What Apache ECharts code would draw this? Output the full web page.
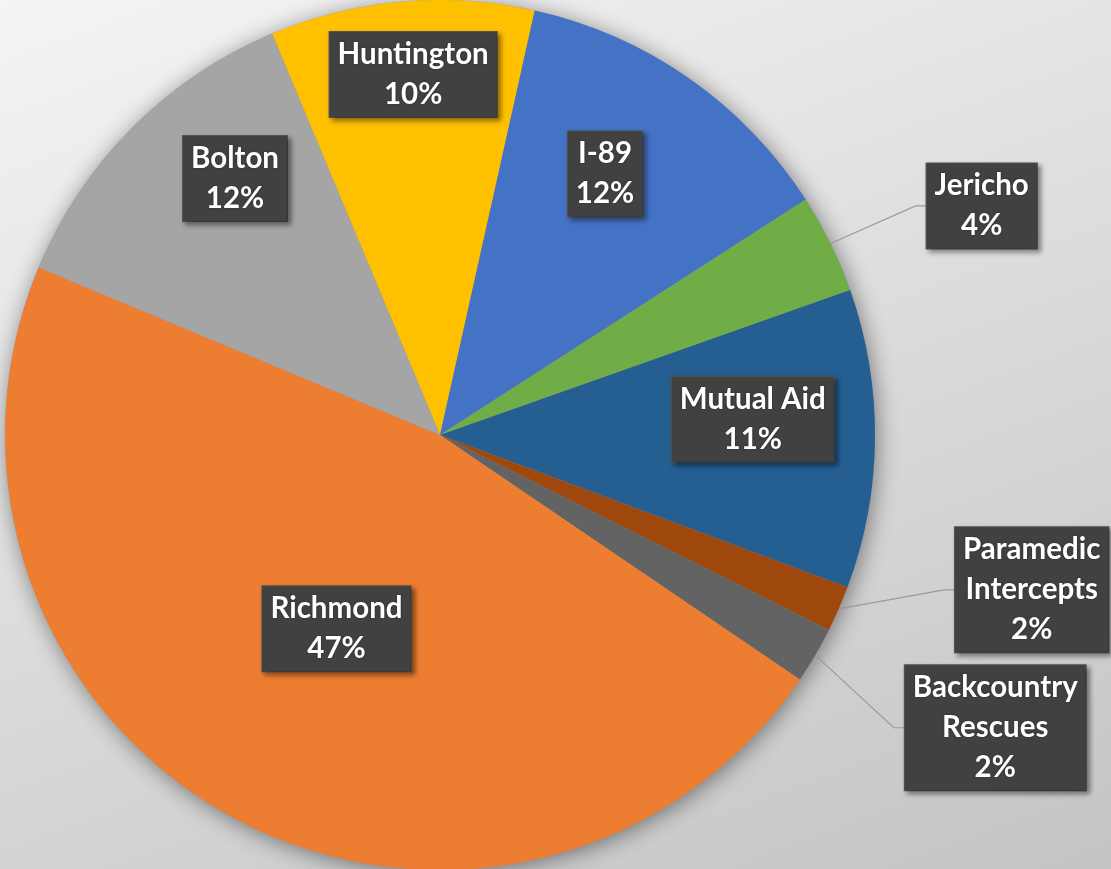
<!DOCTYPE html>
<html>
<head>
<meta charset="utf-8">
<script src="https://cdn.jsdelivr.net/npm/echarts@6/dist/echarts.min.js"></script>
<style>
  html, body { margin: 0; padding: 0; }
  #chart { width: 1111px; height: 869px; }
</style>
</head>
<body>
<div id="chart"></div>
<script>
// ---- data (clockwise order from the top) ----
const categories = ['Huntington', 'I-89', 'Jericho', 'Mutual Aid', 'Paramedic Intercepts', 'Backcountry Rescues', 'Richmond', 'Bolton'];
const shares = [9.8, 12.4, 3.7, 11.1, 1.7, 2.1, 46.8, 12.4];
const colors = ['#FFC000', '#4472C4', '#70AD47', '#255E91', '#9E480E', '#636363', '#ED7D31', '#A5A5A5'];

// ---- layout / style ----
const CX = 440, CY = 435, R = 435;
const START_FROM_TOP = -22.7;            // first slice begins this many degrees (clockwise) from 12 o'clock
// label placement style: [radius fraction, angle nudge in degrees]
const labelPlacement = [
  [0.831, 0.8], [0.71, -2.6], [1.352, 3.2], [0.72, -3.4],
  [1.406, -8.9], [1.443, -2.6], [0.505, -0.3], [0.755, 6.4]
];

const total = shares.reduce((a, b) => a + b, 0);
const midAngles = [];
let acc = 0;
shares.forEach(v => { midAngles.push(START_FROM_TOP + (acc + v / 2) / total * 360); acc += v; });

const chart = echarts.init(document.getElementById('chart'), null, { renderer: 'canvas' });

const option = {
  animation: false,
  backgroundColor: {
    type: 'linear', x: 0, y: 0, x2: 0.368, y2: 1.294,
    colorStops: [{ offset: 0, color: '#f4f4f4' }, { offset: 1, color: '#c4c4c4' }]
  },
  series: [
    {
      // shadow under the pie
      type: 'pie', silent: true, z: 1,
      center: [CX, CY], radius: R,
      label: { show: false }, labelLine: { show: false },
      itemStyle: { color: '#999', shadowBlur: 22, shadowColor: 'rgba(0,0,0,0.45)', shadowOffsetX: 2, shadowOffsetY: 3 },
      data: [1]
    },
    {
      type: 'pie', z: 2,
      center: [CX, CY], radius: R,
      startAngle: 90 - START_FROM_TOP,
      clockwise: true,
      avoidLabelOverlap: false,
      percentPrecision: 0,
      itemStyle: { borderWidth: 0 },
      data: categories.map((name, i) => {
        const outside = labelPlacement[i][0] > 1;
        return {
          name, value: shares[i],
          itemStyle: { color: colors[i] },
          label: { position: outside ? 'outside' : 'inside' },
          labelLine: { show: outside }
        };
      }),
      label: {
        show: true,
        formatter: p => (p.name.length > 12 ? p.name.replace(' ', '\n') : p.name) + '\n' + p.percent + '%',
        color: '#ffffff',
        fontFamily: 'Lato, "Open Sans", sans-serif',
        fontWeight: 'bold',
        fontSize: 29.5,
        lineHeight: 40,
        align: 'center',
        backgroundColor: '#414141',
        borderColor: '#555555',
        borderWidth: 1,
        padding: [3, 8, 2, 8],
        shadowColor: 'rgba(0,0,0,0.45)',
        shadowBlur: 5,
        shadowOffsetX: 3,
        shadowOffsetY: 3,
        textShadowColor: 'rgba(0,0,0,0.4)',
        textShadowBlur: 2
      },
      labelLine: {
        show: true, length: 20, length2: 10, smooth: false,
        lineStyle: { color: '#9a9a9a', width: 1.2 }
      },
      labelLayout: function (params) {
        const i = params.dataIndex;
        const f = labelPlacement[i][0];
        const a = (midAngles[i] + labelPlacement[i][1]) * Math.PI / 180;
        return {
          x: CX + f * R * Math.sin(a),
          y: CY - f * R * Math.cos(a),
          align: 'center',
          verticalAlign: 'middle'
        };
      }
    }
  ]
};
chart.setOption(option);
</script>
</body>
</html>
